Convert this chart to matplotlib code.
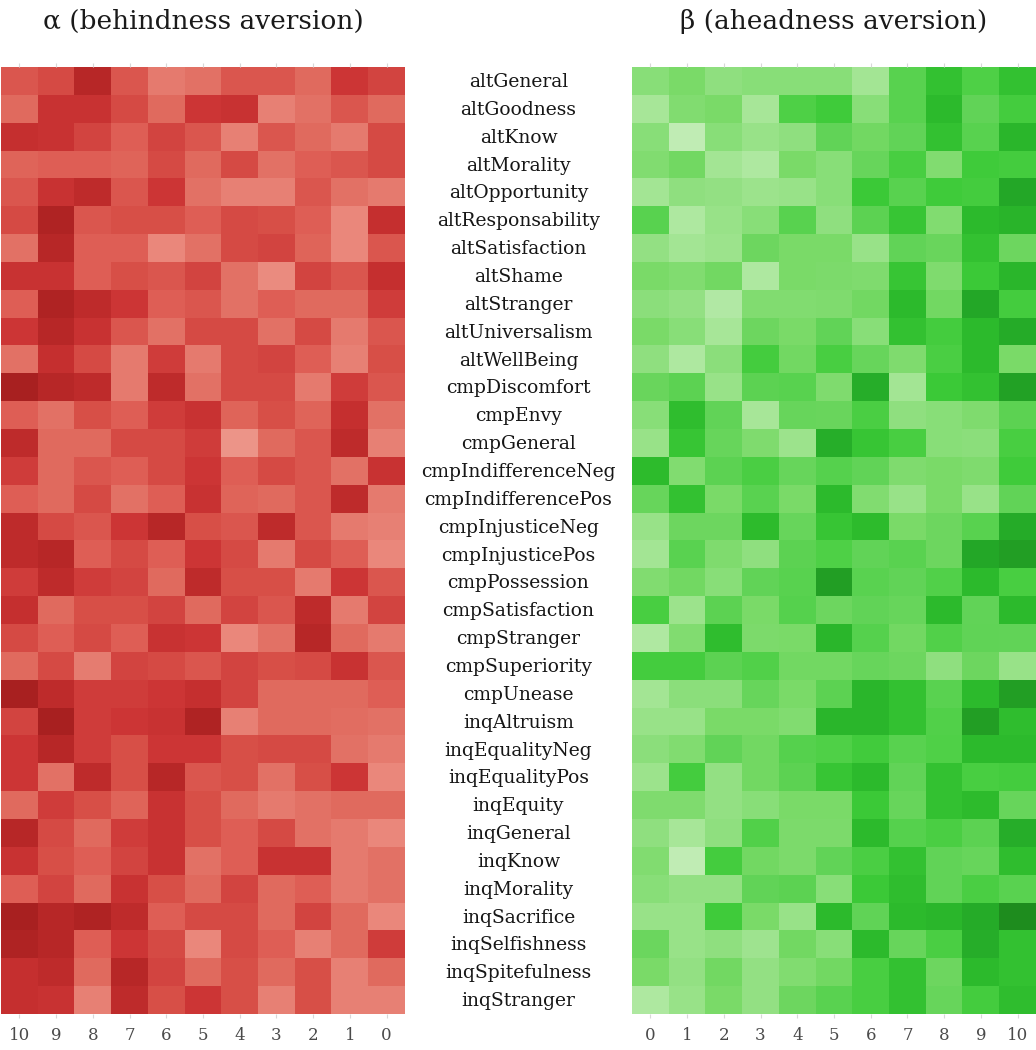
import matplotlib
matplotlib.use("Agg")
import matplotlib.pyplot as plt
import numpy as np
from matplotlib.colors import LinearSegmentedColormap, Normalize
from matplotlib.transforms import blended_transform_factory


CATEGORIES = [
    "altGeneral", "altGoodness", "altKnow", "altMorality", "altOpportunity",
    "altResponsability", "altSatisfaction", "altShame", "altStranger",
    "altUniversalism", "altWellBeing", "cmpDiscomfort", "cmpEnvy", "cmpGeneral",
    "cmpIndifferenceNeg", "cmpIndifferencePos", "cmpInjusticeNeg",
    "cmpInjusticePos", "cmpPossession", "cmpSatisfaction", "cmpStranger",
    "cmpSuperiority", "cmpUnease", "inqAltruism", "inqEqualityNeg",
    "inqEqualityPos", "inqEquity", "inqGeneral", "inqKnow", "inqMorality",
    "inqSacrifice", "inqSelfishness", "inqSpitefulness", "inqStranger",
]

# alpha columns run 10 -> 0, beta columns run 0 -> 10
ALPHA_TICKS = [10, 9, 8, 7, 6, 5, 4, 3, 2, 1, 0]
BETA_TICKS = [0, 1, 2, 3, 4, 5, 6, 7, 8, 9, 10]

ALPHA = [
    [4.5, 5.5, 9, 4.5, 2, 2.5, 4.5, 4.5, 3, 7, 6],
    [3, 7.5, 7.5, 5.5, 3, 7, 7.5, 1.5, 2.5, 4.5, 3],
    [8, 7.5, 6, 4, 6, 4.5, 1.5, 4.5, 3, 2, 5.5],
    [3.5, 4, 4, 3.5, 5.5, 3, 5.5, 2.5, 4, 4.5, 5.5],
    [4.5, 7.5, 8.5, 4.5, 7, 2.5, 1.5, 1.5, 4.5, 2.5, 2],
    [5.5, 9.5, 4.5, 5, 5, 4, 5.5, 5, 4, 1, 8],
    [2.5, 9, 4, 4, 1, 2.5, 5.5, 6, 3.5, 1, 4.5],
    [7.5, 7.5, 4, 5, 4.5, 6, 2.5, 0.8, 6, 4.5, 8],
    [4, 9.5, 8.5, 7, 4, 4.5, 2.5, 4, 3, 3, 6.5],
    [7, 9, 7.5, 4.5, 2.5, 5.5, 5.5, 2.5, 5.5, 2, 4.5],
    [2.5, 8, 5.5, 2, 6.5, 2, 5.5, 6, 4, 1.5, 5],
    [10, 9, 8.5, 2, 8.5, 2.5, 5.5, 5.5, 2, 6.5, 4.5],
    [4, 2.5, 5, 4, 6.5, 7.5, 3.5, 5, 3.5, 8, 2.5],
    [8.5, 3, 3, 5.5, 5.5, 6.5, 0.3, 3, 4.5, 8.5, 1.5],
    [6.5, 3, 4.5, 4, 5.5, 7, 4, 5.5, 4.5, 2.5, 7.5],
    [4, 3, 5.5, 2.5, 4, 7.5, 3.5, 3, 4.5, 8.5, 2],
    [8.5, 5.5, 4.5, 7, 9, 5, 4.5, 8.5, 4.5, 2, 1.5],
    [8.5, 9, 4, 5.5, 4, 7, 5.5, 2, 5.5, 4, 1],
    [6.5, 8.5, 6.5, 6, 3, 8.5, 5, 5, 2, 7, 4.5],
    [8, 3, 5, 5, 6, 3, 6, 4.5, 8.5, 2, 6],
    [5.5, 4, 5.5, 4, 7.5, 7, 1, 2.5, 9, 3, 2],
    [3, 5.5, 1.8, 6, 5.5, 4.5, 6, 5, 5.5, 7.5, 4.5],
    [10, 8.5, 6.5, 6.5, 7, 8, 6, 3, 3, 3, 4],
    [6, 10, 6.5, 7, 7.5, 9.5, 1.5, 3, 3, 2.8, 2.5],
    [7, 9, 6.5, 5, 7, 7, 5, 5.5, 5.5, 2.5, 2],
    [7, 2.5, 8.5, 5, 9, 4.5, 5, 2.5, 5, 7, 1],
    [3, 6.5, 5, 3.5, 7.5, 5, 3, 2, 2.5, 3, 3],
    [9, 5.5, 3, 6.5, 7.5, 5, 4, 5.5, 2.5, 2, 1],
    [7.5, 5, 4, 6, 7.5, 2.5, 4, 7.5, 7.5, 2, 2.5],
    [4, 6, 3, 7.5, 5, 3, 6, 3, 4, 2, 2.5],
    [10, 9, 9.5, 8.5, 4, 5.5, 5.5, 3, 6, 3, 1],
    [9.5, 9, 4, 7, 5.5, 1, 5.5, 4, 1.5, 3, 6.5],
    [8, 8.5, 3, 9, 6, 3, 5, 3, 5, 1.5, 3],
    [8, 7.5, 1.5, 8.5, 5, 7, 5, 1.5, 5, 1.5, 1.5],
]

BETA = [
    [3, 4, 2.5, 3, 3, 3, 1.5, 5.5, 7.5, 6, 7.5],
    [1.3, 3.5, 4, 1.3, 6, 6.8, 3, 5.5, 8, 5, 6.5],
    [3, 0, 3, 2, 2.5, 5, 4.3, 5, 7.5, 5.5, 8.2],
    [3.5, 4.3, 1.5, 1, 4, 3, 4.8, 6.3, 3.5, 6.8, 6.5],
    [1.5, 2.5, 2.3, 1.8, 2, 3, 7, 5.5, 6.8, 6.5, 9],
    [5.5, 1, 2, 3, 5.5, 2.5, 5.3, 7.3, 3.5, 8, 8.3],
    [2.3, 1.5, 1.8, 4.5, 4, 4, 2, 5, 4.7, 7.5, 4.5],
    [4, 3.5, 4.3, 1, 4, 3.8, 3.6, 7.3, 3.6, 7, 8.2],
    [2.8, 2.3, 0.8, 3.5, 3.5, 3.6, 4.3, 8, 4.3, 9, 6.5],
    [4, 3, 1.3, 4.5, 4, 5, 3, 7.5, 6.5, 8, 8.8],
    [2.5, 1, 2.8, 6.5, 4.3, 6.3, 4.8, 3.6, 6.2, 8, 4],
    [4.7, 5.3, 2, 5.3, 5.5, 3.6, 8.7, 1.5, 7, 7.5, 9.2],
    [3, 7.8, 5, 1.3, 4.8, 4.7, 6.2, 2.5, 3, 3.6, 5.3],
    [2, 7.3, 4.8, 3.6, 1.8, 8.6, 7.3, 6.3, 3, 2.8, 6.3],
    [7.9, 3.5, 5.3, 6.2, 4.8, 5.6, 5, 3.6, 4, 3.6, 6.8],
    [4.8, 7.5, 4, 5.4, 4, 8, 3.5, 2, 4, 2, 5],
    [2, 4.5, 4.5, 7.9, 4.8, 7.3, 7.9, 4, 4.5, 5.5, 8.8],
    [1.5, 5.4, 3.6, 2.5, 5.3, 6, 5, 5.4, 4.5, 9, 9.3],
    [3.5, 4.3, 3, 5, 5.5, 9.3, 5.4, 5, 5.8, 8, 6.3],
    [6.3, 1.8, 5.3, 4, 5.6, 4.5, 5, 4.8, 8, 5, 8],
    [0.9, 3.5, 7.8, 3.8, 4, 8.2, 5.6, 4.3, 5.8, 5.1, 5],
    [6.5, 6.5, 5.3, 5.8, 4.3, 4.3, 4.8, 4.5, 2.5, 4.5, 2],
    [1.5, 2.8, 2.8, 4.8, 4, 5.3, 8.2, 7.5, 5.4, 8, 9.3],
    [2, 2, 4, 4, 3.5, 8.2, 8.2, 7.5, 5.8, 9.3, 7.8],
    [2.8, 3.5, 5, 4.3, 5.6, 5.9, 6.7, 5.5, 5.9, 8, 8],
    [1.8, 6.5, 2.3, 4.3, 5.3, 7.3, 8, 5, 7.5, 6.3, 6.5],
    [3.6, 3.6, 2.3, 3, 4, 4, 7, 4.8, 7.5, 7.9, 4.8],
    [2.5, 1.3, 2.5, 5.8, 3.8, 3.8, 8, 5.6, 6.2, 5.3, 8.7],
    [3.5, 0, 6.5, 4.3, 3.8, 5, 6.2, 7.5, 5, 4.8, 7.8],
    [3, 2.3, 2.3, 5, 5.3, 3, 7, 7.8, 5, 6.2, 5.4],
    [2, 2, 6.8, 4, 2, 8, 5.1, 8, 8.2, 8.8, 10],
    [4.6, 2, 2.5, 1.7, 4.3, 3, 8, 4.8, 6.2, 8.7, 7.5],
    [4, 2.3, 4.3, 2.3, 3.5, 4.3, 6.3, 7.5, 4.5, 8, 7.5],
    [1, 2, 4, 2.3, 4.5, 5.4, 6.3, 7.5, 4.8, 6.5, 7.8],
]

RED_STOPS = ["#ee9a8e", "#ea877b", "#e57a6e", "#e06a5e", "#de5e55", "#d85048",
             "#d24440", "#cd3636", "#c52f2f", "#b82828", "#a82020"]
GREEN_STOPS = ["#c0ecb4", "#aee8a0", "#98e288", "#88de78", "#7ada68", "#62d458",
               "#4ed046", "#3cca38", "#2cba2c", "#24a828", "#1e8c1e"]

SERIF = "DejaVu Serif"
W, H = 1036, 1050


def draw_panel(fig, rect, values, ticks, stops, name):
    ax = fig.add_axes(rect)
    cmap = LinearSegmentedColormap.from_list(name, stops)
    ax.imshow(np.asarray(values, dtype=float), cmap=cmap, norm=Normalize(0, 10),
              aspect="auto", interpolation="nearest")
    ax.set_xticks(range(len(ticks)))
    ax.set_xticklabels([str(t) for t in ticks], family=SERIF, fontsize=12, color="#4a4a4a")
    ax.set_yticks([])
    ax.tick_params(axis="x", which="both", top=True, bottom=True, direction="out",
                   length=3, width=0.8, color="#d8d8d8", pad=6)
    for spine in ax.spines.values():
        spine.set_visible(False)
    return ax


fig = plt.figure(figsize=(W / 100, H / 100), dpi=100)
fig.patch.set_facecolor("white")

top, bottom = 67, 1014
left_rect = [1 / W, 1 - bottom / H, 404 / W, (bottom - top) / H]
right_rect = [632 / W, 1 - bottom / H, 404 / W, (bottom - top) / H]

ax_a = draw_panel(fig, left_rect, ALPHA, ALPHA_TICKS, RED_STOPS, "alpha_reds")
ax_b = draw_panel(fig, right_rect, BETA, BETA_TICKS, GREEN_STOPS, "beta_greens")

# category names sit in the gap between the two heat maps
trans = blended_transform_factory(fig.transFigure, ax_a.transData)
mid_x = (405 + 632) / 2 / W
for i, name in enumerate(CATEGORIES):
    ax_a.text(mid_x, i + 0.04, name, transform=trans, ha="center", va="center",
              family=SERIF, fontsize=13.5, color="#161616")

fig.text(203 / W, 1 - 29 / H, "\u03b1 (behindness aversion)", ha="center",
         va="baseline", family=SERIF, fontsize=19, color="#1a1a1a")
fig.text(834 / W, 1 - 29 / H, "\u03b2 (aheadness aversion)", ha="center",
         va="baseline", family=SERIF, fontsize=19, color="#1a1a1a")

fig.savefig("out.png", dpi=100, facecolor="white")
